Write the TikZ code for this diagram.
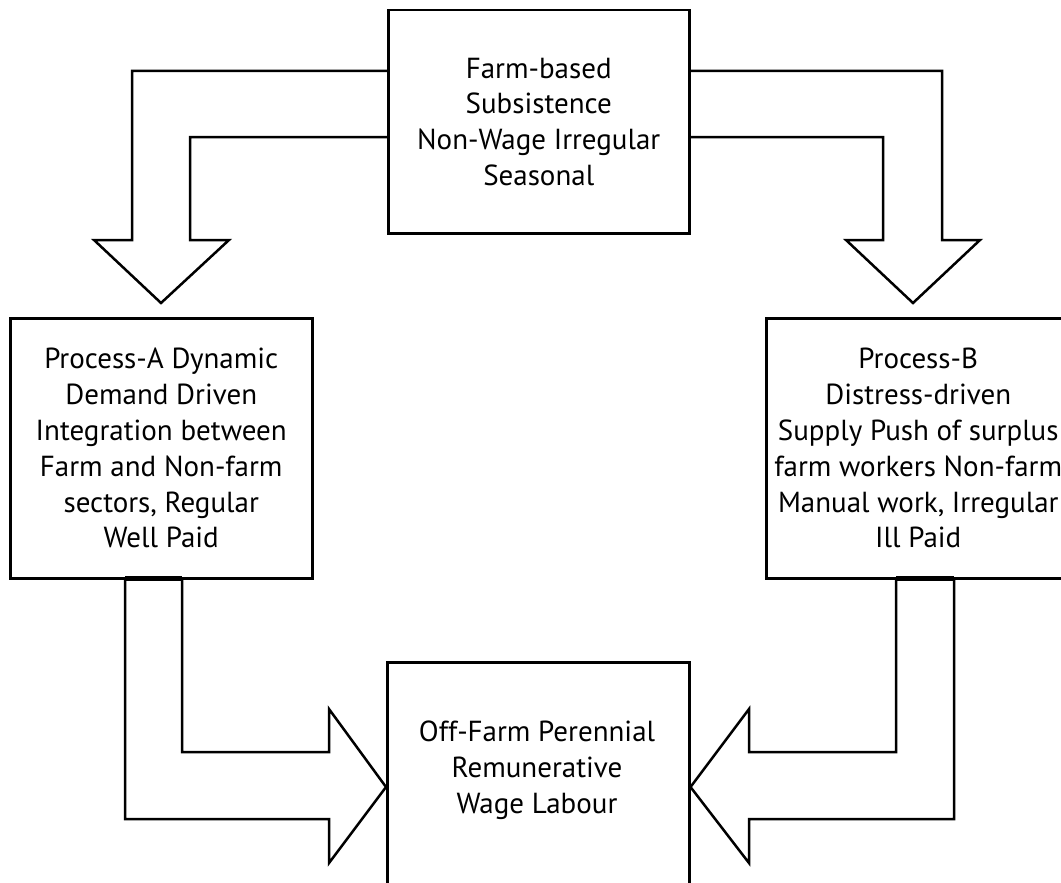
\documentclass[tikz,border=0pt]{standalone}
\usepackage{fontspec}
\setmainfont{PT Sans}
\newcommand\myboxfont{\fontsize{29}{35.8}\selectfont}
\tikzset{
  box/.style={draw, line width=2.5pt, inner sep=0pt, align=center, font=\myboxfont, anchor=north west},
  boxtext/.style={inner sep=0pt, align=center, font=\myboxfont},
  blockarrow/.style={draw, line width=2.5pt, line join=miter},
  joint/.style={line width=4.5pt}
}
\begin{document}
\begin{tikzpicture}[x=1pt,y=-1pt]
\path[use as bounding box, fill=white] (0,0) rectangle (1061,883);

\node[box, minimum width=301pt, minimum height=223pt] (top) at (387,9)
  {Farm-based\\Subsistence\\Non-Wage Irregular\\Seasonal};
\node[box, minimum width=302pt, minimum height=260pt] (left) at (9,317)
  {Process-A Dynamic\\Demand Driven\\Integration between\\Farm and Non-farm\\sectors, Regular\\Well Paid};
\node[box, minimum width=304pt, minimum height=260pt] (right) at (765,317)
  {Process-B\\Distress-driven\\Supply Push of surplus\\farm workers Non-farm\\Manual work, Irregular\\Ill Paid};
\node[box, minimum width=302pt, minimum height=240pt] (bottom) at (386,661) {};
\node[boxtext] (bottomtext) at (537,770) {Off-Farm Perennial\\Remunerative\\Wage Labour};

% top-left block arrow
\draw[blockarrow] (top.west |- 0,71) -- (132,71) -- (132,240) -- (94,240) -- (161,303)
  -- (229,240) -- (190,240) -- (190,137) -- (top.west |- 0,137);
% top-right block arrow
\draw[blockarrow] (top.east |- 0,71) -- (942,71) -- (942,240) -- (980,240) -- (913,303)
  -- (846,240) -- (883,240) -- (883,137) -- (top.east |- 0,137);
% bottom-left block arrow
\draw[blockarrow] (left.south -| 125,0) -- (125,819) -- (329,819) -- (329,863) -- (bottom.west |- 0,787)
  -- (329,709) -- (329,752) -- (182,752) -- (left.south -| 182,0);
\draw[joint] (125,578.5) -- (182,578.5);
% bottom-right block arrow
\draw[blockarrow] (right.south -| 954,0) -- (954,819) -- (749,819) -- (749,863) -- (bottom.east |- 0,787)
  -- (749,709) -- (749,752) -- (896,752) -- (right.south -| 896,0);
\draw[joint] (896,578.5) -- (954,578.5);
\end{tikzpicture}
\end{document}
